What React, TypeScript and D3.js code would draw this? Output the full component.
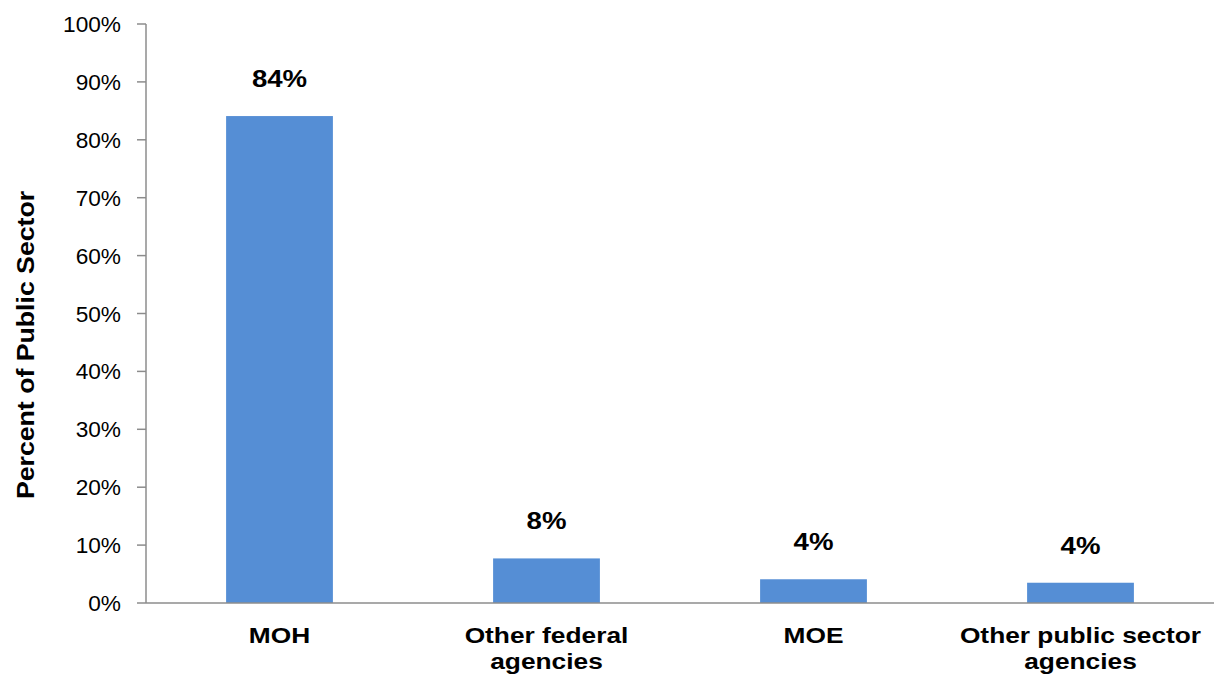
import React from "react";
import * as d3 from "d3";

const categories: string[][] = [
  ["MOH"],
  ["Other federal", "agencies"],
  ["MOE"],
  ["Other public sector", "agencies"],
];
const shares: number[] = [0.841, 0.077, 0.041, 0.035];
const labels: string[] = ["84%", "8%", "4%", "4%"];
const yTicks: number[] = [0, 0.1, 0.2, 0.3, 0.4, 0.5, 0.6, 0.7, 0.8, 0.9, 1.0];
const yTitle = "Percent of Public Sector";

const W = 1216;
const H = 675;
const left = 146;
const right = 1214;
const top = 24;
const bottom = 603;
const FONT = "'Liberation Sans', Arial, sans-serif";
const BAR = "#558ed5";
const AXIS = "#8c8c8c";
const STRETCH = 1.17;

// Text drawn with a slight horizontal widening, anchored at (x, y).
function WideText(props: {
  x: number;
  y: number;
  size: number;
  bold?: boolean;
  anchor?: "start" | "middle" | "end";
  sx?: number;
  rotate?: number;
  children: React.ReactNode;
}) {
  const { x, y, size, bold, anchor = "middle", sx = STRETCH, rotate = 0, children } = props;
  return (
    <text
      transform={`translate(${x},${y}) rotate(${rotate}) scale(${sx},1)`}
      textAnchor={anchor}
      fontFamily={FONT}
      fontWeight={bold ? "bold" : "normal"}
      fontSize={size}
      fill="#000"
    >
      {children}
    </text>
  );
}

export default function App() {
  const x = d3
    .scaleBand<number>()
    .domain(d3.range(categories.length))
    .range([left, right])
    .paddingInner(0.6)
    .paddingOuter(0.3);
  const y = d3.scaleLinear().domain([0, 1]).range([bottom, top]);
  const fmt = d3.format(".0%");
  const cx = (i: number) => x(i)! + x.bandwidth() / 2;

  return (
    <div style={{ position: "absolute", left: 0, top: 0 }}>
      <svg width={W} height={H} style={{ display: "block", background: "#fff" }}>
        {/* y axis */}
        <line x1={left} x2={left} y1={top} y2={bottom} stroke={AXIS} strokeWidth={1.5} />
        {yTicks.map((t) => (
          <g key={t}>
            <line x1={left - 9} x2={left} y1={y(t)} y2={y(t)} stroke={AXIS} strokeWidth={1.5} />
            <WideText x={left - 25} y={y(t) + 8} size={22} anchor="end" sx={1.03}>
              {fmt(t)}
            </WideText>
          </g>
        ))}

        {/* bars */}
        {shares.map((v, i) => (
          <rect
            key={i}
            x={x(i)!}
            y={y(v)}
            width={x.bandwidth()}
            height={bottom - y(v)}
            fill={BAR}
          />
        ))}

        {/* x axis baseline */}
        <line x1={left} x2={right} y1={bottom} y2={bottom} stroke={AXIS} strokeWidth={1.5} />

        {/* value labels */}
        {shares.map((v, i) => (
          <WideText key={i} x={cx(i)} y={y(v) - 29} size={23} bold sx={1.2}>
            {labels[i]}
          </WideText>
        ))}

        {/* category labels */}
        {categories.map((lines, i) =>
          lines.map((l, j) => (
            <WideText key={`${i}-${j}`} x={cx(i)} y={643 + j * 26} size={22.5} bold>
              {l}
            </WideText>
          ))
        )}

        {/* y axis title */}
        <WideText x={34} y={345} size={23} bold rotate={-90} sx={1.16}>
          {yTitle}
        </WideText>
      </svg>
    </div>
  );
}
